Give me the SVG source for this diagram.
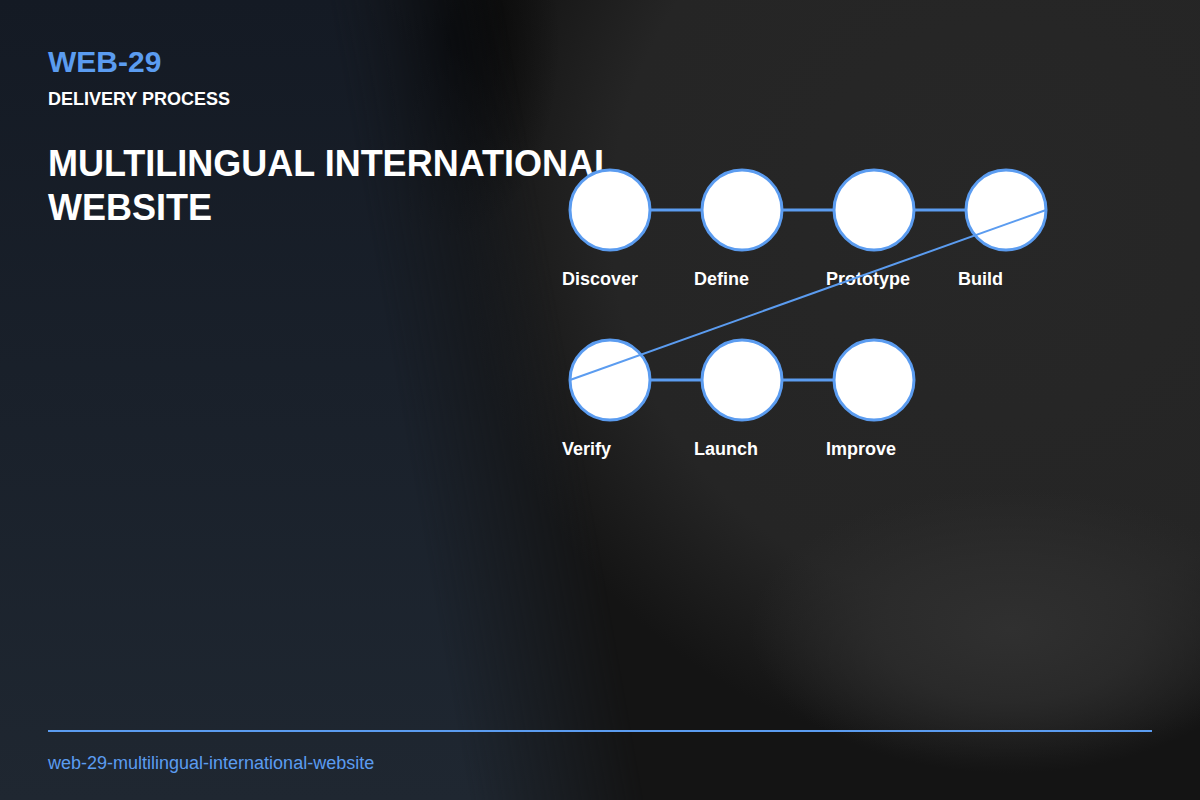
<svg xmlns="http://www.w3.org/2000/svg" width="1200" height="800" viewBox="0 0 1200 800">
  <defs>
    <linearGradient id="navy" x1="0" y1="0" x2="0" y2="1">
      <stop offset="0" stop-color="#141a24"/>
      <stop offset="1" stop-color="#1f2731"/>
    </linearGradient>
    <linearGradient id="edgefade" gradientUnits="userSpaceOnUse" x1="400" y1="412" x2="570" y2="382">
      <stop offset="0" stop-color="#ffffff"/>
      <stop offset="1" stop-color="#000000"/>
    </linearGradient>
    <mask id="navymask" maskUnits="userSpaceOnUse" x="0" y="0" width="1200" height="800">
      <rect x="0" y="0" width="1200" height="800" fill="url(#edgefade)"/>
    </mask>
    <radialGradient id="lightArea" gradientUnits="userSpaceOnUse" cx="1000" cy="220" r="540">
      <stop offset="0" stop-color="#272727"/>
      <stop offset="0.72" stop-color="#252525"/>
      <stop offset="1" stop-color="#252525" stop-opacity="0"/>
    </radialGradient>
    <radialGradient id="blob" gradientUnits="userSpaceOnUse" cx="1010" cy="630" r="260" gradientTransform="translate(1010 630) scale(1 0.55) translate(-1010 -630)">
      <stop offset="0" stop-color="#303030"/>
      <stop offset="0.5" stop-color="#2d2d2d" stop-opacity="0.8"/>
      <stop offset="1" stop-color="#2d2d2d" stop-opacity="0"/>
    </radialGradient>
    <radialGradient id="darkTop" gradientUnits="userSpaceOnUse" cx="450" cy="40" r="200" gradientTransform="translate(450 40) scale(0.55 1) translate(-450 -40)">
      <stop offset="0" stop-color="#060606"/>
      <stop offset="1" stop-color="#060606" stop-opacity="0"/>
    </radialGradient>
    <style>
      .node circle { fill: #ffffff; stroke: #5b9cf0; stroke-width: 3; }
      .label { font-family: "Liberation Sans", Arial, sans-serif; font-weight: bold; font-size: 18px; fill: #ffffff; }
      .edge { stroke: #5b9cf0; stroke-width: 3; fill: none; }
      .edge-diag { stroke: #5b9cf0; stroke-width: 2; fill: none; }
    </style>
  </defs>

  <g id="background">
    <rect x="0" y="0" width="1200" height="800" fill="#141414"/>
    <rect x="0" y="0" width="1200" height="800" fill="url(#lightArea)"/>
    <rect x="0" y="0" width="1200" height="800" fill="url(#blob)"/>
    <rect x="0" y="0" width="1200" height="800" fill="url(#darkTop)"/>
    <rect x="0" y="0" width="1200" height="800" fill="url(#navy)" mask="url(#navymask)"/>
  </g>

  <g id="header" font-family="'Liberation Sans', Arial, sans-serif" font-weight="bold">
    <text x="48" y="72" font-size="30" fill="#5b9cf0">WEB-29</text>
    <text x="48" y="105" font-size="18" fill="#ffffff">DELIVERY PROCESS</text>
    <text x="48" y="176" font-size="36" fill="#ffffff">MULTILINGUAL INTERNATIONAL</text>
    <text x="48" y="220" font-size="36" fill="#ffffff">WEBSITE</text>
  </g>

  <g id="connectors-behind">
    <line class="edge" x1="650" y1="210" x2="702" y2="210"/>
    <line class="edge" x1="782" y1="210" x2="834" y2="210"/>
    <line class="edge" x1="914" y1="210" x2="966" y2="210"/>
    <line class="edge" x1="650" y1="380" x2="702" y2="380"/>
    <line class="edge" x1="782" y1="380" x2="834" y2="380"/>
  </g>

  <g id="node-discover" class="node">
    <circle cx="610" cy="210" r="40"/>
    <text class="label" x="562" y="285">Discover</text>
  </g>
  <g id="node-define" class="node">
    <circle cx="742" cy="210" r="40"/>
    <text class="label" x="694" y="285">Define</text>
  </g>
  <g id="node-prototype" class="node">
    <circle cx="874" cy="210" r="40"/>
    <text class="label" x="826" y="285">Prototype</text>
  </g>
  <g id="node-build" class="node">
    <circle cx="1006" cy="210" r="40"/>
    <text class="label" x="958" y="285">Build</text>
  </g>
  <g id="node-verify" class="node">
    <circle cx="610" cy="380" r="40"/>
    <text class="label" x="562" y="455">Verify</text>
  </g>
  <g id="node-launch" class="node">
    <circle cx="742" cy="380" r="40"/>
    <text class="label" x="694" y="455">Launch</text>
  </g>
  <g id="node-improve" class="node">
    <circle cx="874" cy="380" r="40"/>
    <text class="label" x="826" y="455">Improve</text>
  </g>

  <g id="connectors">
    <line class="edge-diag" x1="1046" y1="210" x2="570" y2="380"/>
  </g>

  <g id="footer">
    <line x1="48" y1="731" x2="1152" y2="731" stroke="#5b9cf0" stroke-width="2"/>
    <text x="48" y="769" font-family="'Liberation Sans', Arial, sans-serif" font-size="18" fill="#5b9cf0">web-29-multilingual-international-website</text>
  </g>
</svg>
